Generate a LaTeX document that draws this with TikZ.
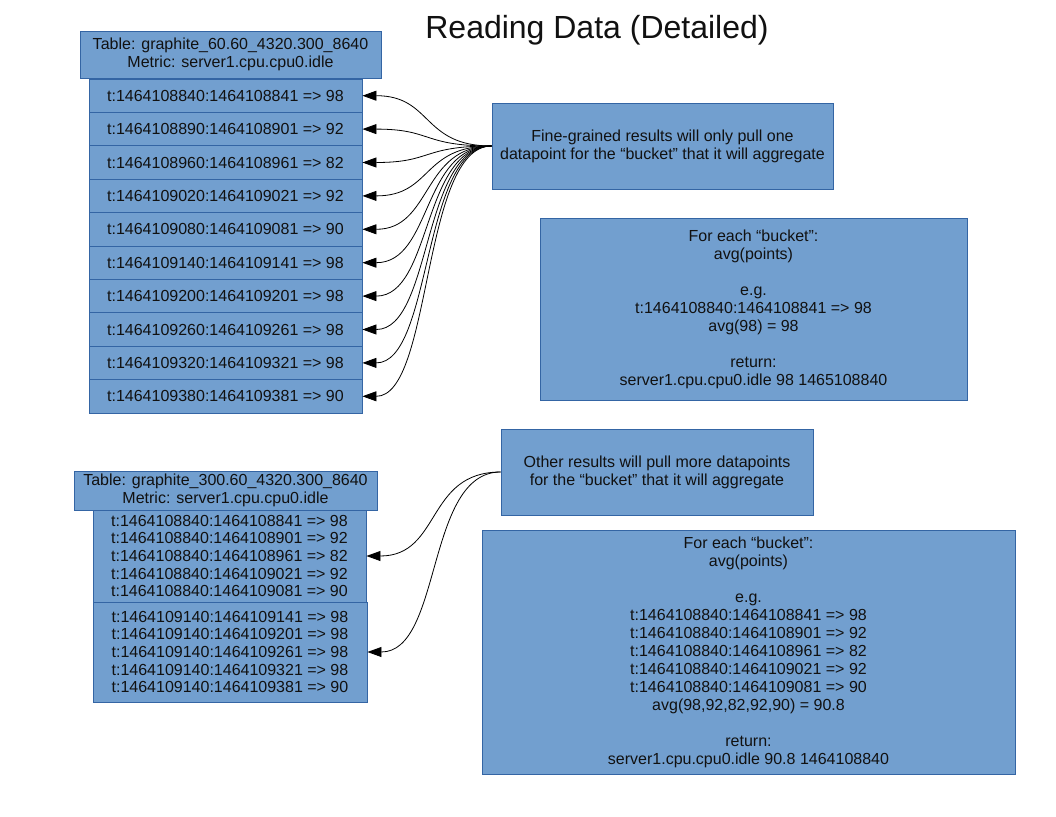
\documentclass[tikz,border=0pt]{standalone}
\usepackage{fontspec}
\setmainfont{Liberation Sans}
\usetikzlibrary{arrows.meta}
\definecolor{boxfill}{HTML}{729FCF}
\definecolor{boxline}{HTML}{3465A4}
\definecolor{txt}{HTML}{111111}
\begin{document}
\begin{tikzpicture}[x=1pt,y=-1pt,
  box/.style={draw=boxline, fill=boxfill, line width=0.9pt, inner sep=0pt, align=center,
    text=txt, font=\fontsize{16}{17.6}\selectfont},
  bigbox/.style={box, font=\fontsize{16}{18}\selectfont},
  arr/.style={draw=black, line width=0.8pt, -{Triangle[length=14pt,width=10pt]}}]
\useasboundingbox[fill=white] (0,0) rectangle (1056,816);

\node[font=\fontsize{32}{36}\selectfont, text=txt] (title) at (597,30) {Reading Data (Detailed)};

% first table
\node[box, minimum width=301pt, minimum height=47pt] (h1) at (230.5,54.5)
  {Table: graphite\_60.60\_4320.300\_8640\\Metric: server1.cpu.cpu0.idle};
\foreach \i/\t in {1/t:1464108840:1464108841 => 98,
                   2/t:1464108890:1464108901 => 92,
                   3/t:1464108960:1464108961 => 82,
                   4/t:1464109020:1464109021 => 92,
                   5/t:1464109080:1464109081 => 90,
                   6/t:1464109140:1464109141 => 98,
                   7/t:1464109200:1464109201 => 98,
                   8/t:1464109260:1464109261 => 98,
                   9/t:1464109320:1464109321 => 98,
                   10/t:1464109380:1464109381 => 90}{
  \node[box, minimum width=273pt, minimum height=33.4pt] (r\i) at (225.5,{79+33.4*(\i-0.5)}) {\t};
}

\node[bigbox, minimum width=341pt, minimum height=86pt] (fine) at (662.5,146)
  {Fine-grained results will only pull one\\datapoint for the “bucket” that it will aggregate};

\node[bigbox, minimum width=427pt, minimum height=182pt] (each1) at (753.5,309)
  {For each “bucket”:\\avg(points)\\[18pt]e.g.\\t:1464108840:1464108841 => 98\\avg(98) = 98\\[18pt]return:\\server1.cpu.cpu0.idle 98 1465108840};

\foreach \i in {1,...,10}{
  \draw[arr] (fine.west) .. controls +(-70,0) and +(70,0) .. (r\i.east);
}

% second table
\node[box, minimum width=303pt, minimum height=39pt] (h2) at (225.5,490.5)
  {Table: graphite\_300.60\_4320.300\_8640\\Metric: server1.cpu.cpu0.idle};
\node[box, minimum width=273pt, minimum height=92pt] (g1) at (229.5,556)
  {t:1464108840:1464108841 => 98\\t:1464108840:1464108901 => 92\\t:1464108840:1464108961 => 82\\t:1464108840:1464109021 => 92\\t:1464108840:1464109081 => 90};
\node[box, minimum width=274pt, minimum height=100pt] (g2) at (230,652)
  {t:1464109140:1464109141 => 98\\t:1464109140:1464109201 => 98\\t:1464109140:1464109261 => 98\\t:1464109140:1464109321 => 98\\t:1464109140:1464109381 => 90};

\node[bigbox, minimum width=312pt, minimum height=86pt] (other) at (657,472)
  {Other results will pull more datapoints\\for the “bucket” that it will aggregate};

\node[bigbox, minimum width=533pt, minimum height=244pt] (each2) at (748.5,652)
  {For each “bucket”:\\avg(points)\\[18pt]e.g.\\t:1464108840:1464108841 => 98\\t:1464108840:1464108901 => 92\\t:1464108840:1464108961 => 82\\t:1464108840:1464109021 => 92\\t:1464108840:1464109081 => 90\\avg(98,92,82,92,90) = 90.8\\[18pt]return:\\server1.cpu.cpu0.idle 90.8 1464108840};

\draw[arr] (other.west) .. controls +(-75,0) and +(75,0) .. (g1.east);
\draw[arr] (other.west) .. controls +(-75,0) and +(75,0) .. (g2.east);
\end{tikzpicture}
\end{document}
